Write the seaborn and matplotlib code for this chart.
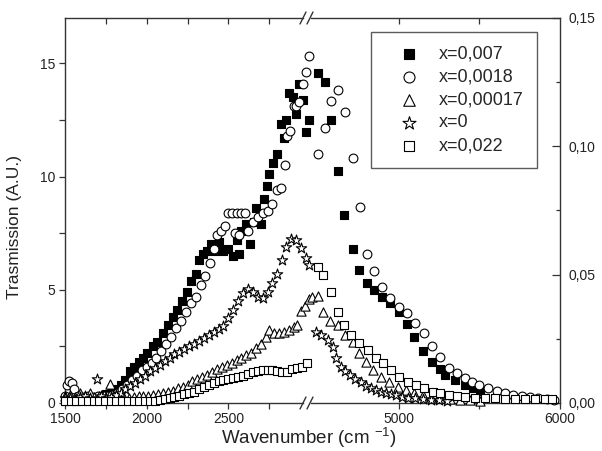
import matplotlib
matplotlib.use("Agg")
import matplotlib.pyplot as plt
import seaborn as sns

# ---------------------------------------------------------------
# Data.
# Left panel : 1500-3000 cm-1, transmission in A.U. (left axis)
# Right panel: 4450-6000 cm-1, values on the right axis (0-0.15)
# ---------------------------------------------------------------
LABELS = ["x=0,007", "x=0,0018", "x=0,00017", "x=0", "x=0,022"]

# x = 0,007 (filled squares)
WN_007_LO = [1500, 1530, 1560, 1590, 1620, 1650, 1680, 1715, 1750, 1780,
             1810, 1840, 1870, 1900, 1925, 1950, 1980, 2005, 2040, 2065,
             2100, 2130, 2160, 2185, 2215, 2245, 2270, 2300, 2320, 2345,
             2370, 2395, 2420, 2440, 2470, 2500, 2530, 2550, 2565, 2580,
             2610, 2630, 2655, 2670, 2700, 2720, 2735, 2750, 2775, 2800,
             2824, 2842, 2855, 2873, 2898, 2916, 2935, 2960, 2978, 2996]
TR_007_LO = [0.1, 0.12, 0.1, 0.15, 0.12, 0.15, 0.2, 0.3, 0.4, 0.5,
             0.6, 0.8, 1.0, 1.4, 1.6, 1.8, 2.0, 2.2, 2.5, 2.7,
             3.1, 3.45, 3.8, 4.1, 4.5, 4.9, 5.4, 5.7, 6.3, 6.6,
             6.7, 7.0, 6.7, 7.1, 6.7, 6.8, 6.5, 7.2, 6.6, 7.6,
             7.9, 7.0, 8.0, 8.6, 7.9, 9.0, 9.6, 10.1, 10.6, 11.0,
             12.3, 11.7, 12.5, 13.7, 13.5, 12.75, 14.1, 13.4, 11.95, 12.5]
WN_007_HI = [4502, 4545, 4582, 4625, 4662, 4717, 4754, 4803, 4847, 4896,
             4945, 5001, 5050, 5093, 5148, 5204, 5253, 5290, 5352, 5413,
             5462, 5506]
TR_007_HI = [0.1286, 0.1251, 0.1103, 0.0904, 0.0732, 0.0600, 0.0518, 0.0468, 0.0440, 0.0413,
             0.0390, 0.0355, 0.0308, 0.0257, 0.0203, 0.0160, 0.0132, 0.0109, 0.0090, 0.0070,
             0.0058, 0.0045]

# x = 0,0018 (open circles)
WN_0018_LO = [1500, 1512, 1525, 1540, 1555, 1580, 1610, 1640, 1670, 1700,
              1730, 1760, 1790, 1820, 1850, 1880, 1910, 1940, 1970, 2000,
              2030, 2060, 2090, 2120, 2150, 2180, 2210, 2240, 2270, 2300,
              2330, 2360, 2390, 2410, 2430, 2455, 2480, 2500, 2525, 2540,
              2550, 2565, 2575, 2600, 2620, 2650, 2680, 2710, 2740, 2770,
              2800, 2820, 2845, 2860, 2875, 2900, 2915, 2935, 2960, 2978, 2996]
TR_0018_LO = [0.3, 0.8, 0.95, 0.9, 0.6, 0.3, 0.25, 0.3, 0.25, 0.3,
              0.25, 0.3, 0.35, 0.45, 0.6, 0.8, 1.0, 1.2, 1.45, 1.6,
              1.75, 2.0, 2.3, 2.6, 2.9, 3.3, 3.6, 4.0, 4.4, 4.7,
              5.2, 5.6, 6.2, 6.8, 7.4, 7.6, 7.8, 8.4, 8.4, 7.5,
              8.4, 7.4, 8.4, 8.4, 7.6, 8.0, 8.2, 8.4, 8.5, 8.8,
              9.4, 9.5, 10.5, 11.8, 12.0, 13.1, 13.1, 13.3, 14.1, 14.6, 15.3]
WN_0018_HI = [4502, 4545, 4582, 4625, 4668, 4717, 4760, 4803, 4847, 4896,
              4945, 5001, 5050, 5099, 5155, 5204, 5253, 5309, 5364, 5413,
              5456, 5499, 5555, 5610, 5660, 5709, 5764, 5813, 5863, 5918, 5962]
TR_0018_HI = [0.0970, 0.1071, 0.1177, 0.1219, 0.1134, 0.0955, 0.0764, 0.0581, 0.0514, 0.0452,
              0.0409, 0.0374, 0.0351, 0.0312, 0.0273, 0.0222, 0.0179, 0.0136, 0.0117, 0.0097,
              0.0082, 0.0070, 0.0058, 0.0047, 0.0039, 0.0031, 0.0027, 0.0023, 0.0019, 0.0016, 0.0012]

# x = 0,00017 (open triangles)
WN_00017_LO = [1500, 1530, 1560, 1590, 1620, 1650, 1680, 1710, 1740,
               1775, 1800, 1830, 1860, 1890, 1920, 1950, 1980, 2010, 2040,
               2070, 2100, 2130, 2160, 2190, 2220, 2250, 2280, 2310, 2340,
               2370, 2400, 2430, 2460, 2490, 2520, 2550, 2580, 2610, 2640,
               2670, 2700, 2730, 2750, 2780, 2810, 2840, 2870, 2900, 2920,
               2945, 2970, 2995]
TR_00017_LO = [0.3, 0.35, 0.25, 0.45, 0.3, 0.45, 0.25, 0.3, 0.35,
               0.85, 0.3, 0.25, 0.2, 0.2, 0.25, 0.3, 0.3, 0.3, 0.35,
               0.4, 0.45, 0.5, 0.55, 0.65, 0.7, 0.8, 0.95, 1.05, 1.15,
               1.25, 1.35, 1.5, 1.6, 1.68, 1.75, 1.88, 2.0, 2.12, 2.2,
               2.45, 2.6, 2.9, 3.22, 3.1, 3.1, 3.15, 3.22, 3.35, 3.45,
               4.05, 4.3, 4.6]
WN_00017_HI = [4465, 4502, 4533, 4576, 4625, 4670, 4717, 4754, 4797, 4840,
               4890, 4939, 4994, 5044, 5093, 5148, 5198, 5259, 5321, 5382,
               5444, 5506]
TR_00017_HI = [0.0413, 0.0417, 0.0355, 0.0320, 0.0304, 0.0265, 0.0236, 0.0195, 0.0160, 0.0129,
               0.0101, 0.0082, 0.0062, 0.0051, 0.0039, 0.0031, 0.0023, 0.0019, 0.0016, 0.0012,
               0.0010, 0.0008]

# x = 0 (open stars)
WN_0_LO = [1500, 1530, 1560, 1590, 1620, 1650, 1697, 1720, 1750, 1780,
           1810, 1840, 1870, 1900, 1930, 1960, 1990, 2020, 2050, 2080,
           2110, 2140, 2170, 2200, 2230, 2260, 2290, 2320, 2350, 2380,
           2410, 2440, 2470, 2500, 2530, 2560, 2590, 2620, 2650, 2680,
           2710, 2740, 2770, 2800, 2830, 2855, 2885, 2915, 2945, 2975, 2995]
TR_0_LO = [0.2, 0.2, 0.15, 0.25, 0.3, 0.2, 1.05, 0.3, 0.2, 0.25,
           0.35, 0.45, 0.6, 0.75, 0.9, 1.05, 1.2, 1.4, 1.55, 1.7,
           1.85, 2.0, 2.15, 2.25, 2.4, 2.5, 2.6, 2.75, 2.85, 3.0,
           3.15, 3.25, 3.4, 3.75, 4.1, 4.5, 4.85, 5.05, 4.9, 4.7,
           4.65, 4.9, 5.3, 5.7, 6.3, 6.9, 7.25, 7.2, 6.85, 6.4, 6.1]
WN_0_HI = [4489, 4520, 4563, 4594, 4613, 4643, 4670, 4700, 4730, 4767,
           4800, 4830, 4860, 4890, 4920, 4950, 4985, 5020, 5060, 5100,
           5150, 5200, 5250, 5300]
TR_0_HI = [0.0277, 0.0265, 0.0245, 0.0218, 0.0175, 0.0140, 0.0125, 0.0110, 0.0095, 0.0080,
           0.0068, 0.0058, 0.0050, 0.0043, 0.0038, 0.0034, 0.0030, 0.0025, 0.0021, 0.0018,
           0.0015, 0.0012, 0.0010, 0.0008]

# x = 0,022 (open squares)
WN_022_LO = [1500, 1535, 1570, 1605, 1640, 1675, 1710, 1745, 1780, 1815,
             1850, 1885, 1920, 1955, 1990, 2020, 2050, 2080, 2110, 2140,
             2170, 2200, 2230, 2260, 2290, 2320, 2350, 2380, 2410, 2440,
             2470, 2500, 2530, 2560, 2590, 2620, 2650, 2680, 2710, 2740,
             2770, 2800, 2830, 2860, 2890, 2920, 2950, 2980]
TR_022_LO = [0.08, 0.07, 0.08, 0.09, 0.08, 0.07, 0.08, 0.08, 0.09, 0.08,
             0.07, 0.08, 0.08, 0.09, 0.08, 0.08, 0.1, 0.12, 0.18, 0.22,
             0.27, 0.33, 0.38, 0.45, 0.5, 0.6, 0.7, 0.8, 0.88, 0.95,
             1.0, 1.05, 1.1, 1.15, 1.2, 1.3, 1.35, 1.42, 1.46, 1.46,
             1.45, 1.42, 1.38, 1.38, 1.48, 1.55, 1.6, 1.75]
WN_022_HI = [4502, 4533, 4582, 4625, 4662, 4705, 4754, 4810, 4859, 4902,
             4951, 5001, 5056, 5105, 5155, 5210, 5259, 5309, 5364, 5413,
             5475, 5536, 5598, 5660, 5721, 5783, 5845, 5906, 5950]
TR_022_HI = [0.0530, 0.0499, 0.0432, 0.0355, 0.0304, 0.0265, 0.0234, 0.0206, 0.0175, 0.0156,
             0.0129, 0.0101, 0.0082, 0.0070, 0.0058, 0.0043, 0.0039, 0.0031, 0.0027, 0.0023,
             0.0019, 0.0019, 0.0019, 0.0016, 0.0016, 0.0016, 0.0016, 0.0016, 0.0016]

LO = [(WN_007_LO, TR_007_LO), (WN_0018_LO, TR_0018_LO), (WN_00017_LO, TR_00017_LO),
      (WN_0_LO, TR_0_LO), (WN_022_LO, TR_022_LO)]
HI = [(WN_007_HI, TR_007_HI), (WN_0018_HI, TR_0018_HI), (WN_00017_HI, TR_00017_HI),
      (WN_0_HI, TR_0_HI), (WN_022_HI, TR_022_HI)]

# marker style per series
MARKERS = ["s", "o", "^", "*", "s"]
FACES = ["black", "white", "white", "white", "white"]
SIZES = [34, 40, 44, 62, 30]

# =========================
# Style
# =========================
sns.set_style("ticks")
plt.rcParams["font.family"] = ["Liberation Sans", "DejaVu Sans"]
plt.rcParams["mathtext.fontset"] = "custom"
plt.rcParams["mathtext.rm"] = "Liberation Sans"
plt.rcParams["mathtext.it"] = "Liberation Sans:italic"
plt.rcParams["axes.linewidth"] = 1.0
plt.rcParams["axes.edgecolor"] = "#333333"
plt.rcParams["xtick.color"] = "#333333"
plt.rcParams["ytick.color"] = "#333333"
plt.rcParams["xtick.labelcolor"] = "#222222"
plt.rcParams["ytick.labelcolor"] = "#222222"

W, H = 602, 451
fig = plt.figure(figsize=(W / 100, H / 100), dpi=100)
ax_l = fig.add_axes([65 / W, 48 / H, 245 / W, 385 / H])
ax_r = fig.add_axes([310 / W, 48 / H, 250 / W, 385 / H])
for ax in (ax_l, ax_r):
    ax.patch.set_visible(False)

for i, lab in enumerate(LABELS):
    for ax, (xs, ys), lbl in ((ax_l, LO[i], lab), (ax_r, HI[i], None)):
        sns.scatterplot(x=xs, y=ys, ax=ax, marker=MARKERS[i], s=SIZES[i],
                        color=FACES[i], edgecolor="black", linewidth=0.8,
                        clip_on=False, zorder=3 + i * 0.1, label=lbl, legend=False)

# ---- left panel ----
ax_l.set_xlim(1500, 3000)
ax_l.set_ylim(0, 17)
ax_l.spines["right"].set_visible(False)
ax_l.spines["top"].set_bounds(1500, 2955)
ax_l.spines["bottom"].set_bounds(1500, 2955)
ax_l.set_xticks([1500, 1750, 2000, 2250, 2500, 2750])
ax_l.set_xticklabels(["1500", "", "2000", "", "2500", ""])
ax_l.set_yticks([0, 5, 10, 15])
ax_l.set_yticklabels(["0", "5", "10", "15"])
ax_l.set_yticks([2.5, 7.5, 12.5], minor=True)
ax_l.tick_params(axis="x", direction="out", length=4.5, width=0.9, pad=2, labelsize=10)
ax_l.tick_params(axis="y", which="both", direction="out", length=4.5, width=0.9,
                 pad=2.5, labelsize=10, right=False)
top_l = ax_l.secondary_xaxis("top")
top_l.set_xticks([1750, 2000, 2250, 2500, 2750])
top_l.tick_params(direction="in", length=4, width=0.9, labeltop=False)
top_l.spines["top"].set_visible(False)
ax_l.set_xlabel("")
ax_l.set_ylabel("")

# ---- right panel ----
ax_r.set_xlim(4450, 6000)
ax_r.set_ylim(0, 0.15)
ax_r.spines["left"].set_visible(False)
ax_r.spines["top"].set_bounds(4456, 6000)
ax_r.spines["bottom"].set_bounds(4456, 6000)
ax_r.set_xticks([5000, 5500, 6000])
ax_r.set_xticklabels(["5000", "", "6000"])
ax_r.set_yticks([0, 0.05, 0.10, 0.15])
ax_r.set_yticklabels(["0,00", "0,05", "0,10", "0,15"])
ax_r.set_yticks([0.025, 0.075, 0.125], minor=True)
ax_r.tick_params(axis="x", direction="out", length=4.5, width=0.9, pad=2, labelsize=10)
ax_r.tick_params(axis="y", which="major", direction="in", length=6, width=0.9,
                 left=False, right=True, labelleft=False, labelright=True, pad=6, labelsize=10)
ax_r.tick_params(axis="y", which="minor", direction="in", length=3, width=0.9,
                 left=False, right=True)
top_r = ax_r.secondary_xaxis("top")
top_r.set_xticks([5000, 5500])
top_r.tick_params(direction="in", length=4, width=0.9, labeltop=False)
top_r.spines["top"].set_visible(False)
ax_r.set_xlabel("")
ax_r.set_ylabel("")

# ---- axis break marks (//) ----
for ypix in (18, 403):
    for xpix in (303, 310):
        xs = [(xpix - 3) / W, (xpix + 3) / W]
        ys = [1 - (ypix + 6) / H, 1 - (ypix - 6) / H]
        fig.add_artist(plt.Line2D(xs, ys, color="#333333", lw=1.0,
                                  transform=fig.transFigure))

# ---- labels ----
fig.text(15 / W, 1 - 227 / H, "Trasmission (A.U.)", rotation=90,
         ha="center", va="center", fontsize=12.5, color="#222222")
fig.text(309 / W, 1 - 444 / H, r"Wavenumber (cm $^{-1}$)", ha="center",
         va="baseline", fontsize=13.5, color="#222222")

# ---- legend ----
handles, labels = ax_l.get_legend_handles_labels()
leg = ax_r.legend(handles, labels, loc="upper right",
                  bbox_to_anchor=(537 / W, 1 - 32 / H), bbox_transform=fig.transFigure,
                  frameon=True, fancybox=False, edgecolor="#333333", fontsize=13,
                  borderpad=0.75, handletextpad=0.3, handlelength=2.72,
                  labelspacing=0.33, borderaxespad=0, markerscale=1.25,
                  scatterpoints=1)
leg.get_frame().set_linewidth(1.0)
leg.set_zorder(10)

fig.savefig("out.png", dpi=100)
plt.close(fig)
